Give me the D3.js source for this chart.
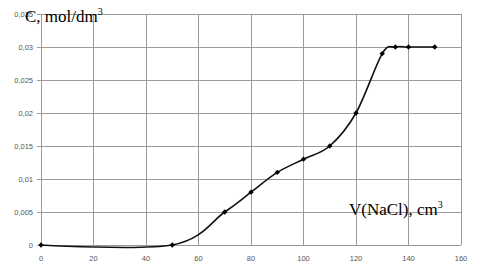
<!DOCTYPE html>
<html><head><meta charset="utf-8">
<script src="https://cdn.jsdelivr.net/npm/d3@7"></script>
<style>body{margin:0;background:#fff}svg{display:block}</style>
</head><body>
<script>
const volumes = [0, 50, 70, 80, 90, 100, 110, 120, 130, 135, 140, 150];
const concentrations = [0, 0, 0.005, 0.008, 0.011, 0.013, 0.015, 0.02, 0.029, 0.03, 0.03, 0.03];
const xTicks = [0, 20, 40, 60, 80, 100, 120, 140, 160];
const yTicks = [0, 0.005, 0.01, 0.015, 0.02, 0.025, 0.03, 0.035];
const yTickLabels = ["0", "0,005", "0,01", "0,015", "0,02", "0,025", "0,03", "0,035"];

const W = 483, H = 272;
const svg = d3.select("body").append("svg").attr("width", W).attr("height", H);
const x = d3.scaleLinear().domain([0, 160]).range([41, 461]);
const y = d3.scaleLinear().domain([0, 0.035]).range([245, 14]);

const g = svg.append("g");
g.selectAll(".vg").data(xTicks).join("line")
  .attr("x1", d => x(d)).attr("x2", d => x(d)).attr("y1", y(0)).attr("y2", y(0.035))
  .attr("stroke", "#9a9a9a").attr("stroke-width", 1).attr("shape-rendering", "crispEdges");
g.selectAll(".hg").data(yTicks).join("line")
  .attr("x1", x(0) - 4).attr("x2", x(160)).attr("y1", d => y(d)).attr("y2", d => y(d))
  .attr("stroke", "#9a9a9a").attr("stroke-width", 1).attr("shape-rendering", "crispEdges");

g.selectAll(".xt").data(xTicks).join("text")
  .attr("x", d => x(d)).attr("y", 261).attr("text-anchor", "middle")
  .attr("font-family", "Liberation Sans, Arial, sans-serif").attr("font-size", 7.5).attr("fill", "#555")
  .text(d => d);
g.selectAll(".yt").data(yTicks).join("text")
  .attr("x", 33).attr("y", d => y(d) + 2.5).attr("text-anchor", "end")
  .attr("font-family", "Liberation Sans, Arial, sans-serif").attr("font-size", 7.5).attr("fill", "#555")
  .text((d, i) => yTickLabels[i]);

const pts = volumes.map((v, i) => [v, concentrations[i]]);
const line = d3.line().x(d => x(d[0])).y(d => y(d[1])).curve(d3.curveCardinal.tension(0));
svg.append("path").attr("d", line(pts)).attr("fill", "none").attr("stroke", "#111").attr("stroke-width", 1.6);

svg.selectAll(".m").data(pts).join("path")
  .attr("d", d3.symbol(d3.symbolDiamond2 || d3.symbolDiamond, 18)())
  .attr("transform", d => `translate(${x(d[0])},${y(d[1])})`)
  .attr("fill", "#000");

const t1 = svg.append("text").attr("x", 25).attr("y", 22)
  .attr("font-family", "Liberation Serif, Times New Roman, serif").attr("font-size", 17).attr("fill", "#000");
t1.append("tspan").text("C, mol/dm");
t1.append("tspan").attr("dy", -7).attr("font-size", 10).text("3");

const t2 = svg.append("text").attr("x", 349).attr("y", 215)
  .attr("font-family", "Liberation Serif, Times New Roman, serif").attr("font-size", 17).attr("fill", "#000");
t2.append("tspan").text("V(NaCl), cm");
t2.append("tspan").attr("dy", -7).attr("font-size", 10).text("3");
</script>
</body></html>
